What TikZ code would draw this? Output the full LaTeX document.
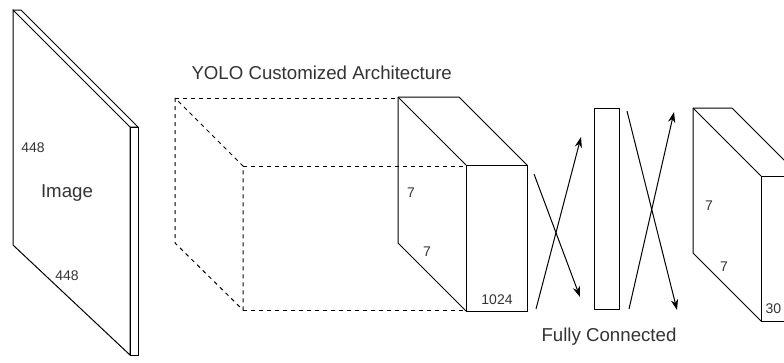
\documentclass[tikz,border=0pt]{standalone}
\usepackage{fontspec}
\setmainfont{Liberation Sans}
\usetikzlibrary{arrows.meta,positioning}

\begin{document}
\begin{tikzpicture}[x=0.75pt,y=-0.75pt,line width=0.75pt,
  num/.style={font=\fontsize{10.5}{12}\selectfont,text=black!80,inner sep=0pt},
  labeltext/.style={font=\fontsize{14}{16}\selectfont,text=black!80,inner sep=0pt},
  fcarrow/.style={-{Stealth[length=8pt,width=5.5pt]}}]

% ---- page frame (reference is cut at the right edge) ----
\useasboundingbox (0,0) rectangle (784,362);
\clip (0,0) rectangle (784,362);

% ---- solid box: \blockcube{x1}{y1}{x2}{y2}{depth}, front face + offset back
\newcommand{\blockcube}[5]{
  \draw (#1,#2) rectangle (#3,#4);
  \draw (#1-#5,#2-#5) -- (#3-#5,#2-#5) -- (#3,#2);
  \draw (#1-#5,#2-#5) -- (#1,#2);
  \draw (#1-#5,#2-#5) -- (#1-#5,#4-#5) -- (#1,#4);
}

% Input image slab
\draw (13,10) -- (130,127) -- (130,355) -- (13,245) -- cycle;
\draw (13,10) -- (21,10) -- (138,127) -- (130,127);
\draw (130,127) rectangle (138,355);
\node[num] (imgh) at (33,148) {448};
\node[labeltext] (img) at (67,193) {Image};
\node[num] (imgw) at (67,276) {448};

% Title
\node[labeltext,anchor=west] (title) at (191,73) {YOLO Customized Architecture};

% Dashed backbone volume
\draw[dashed] (175,98) -- (175,243) -- (243,310) -- (243,166) -- cycle;
\draw[dashed] (175,98) -- (398,98);
\draw[dashed] (243,166) -- (466,166);
\draw[dashed] (243,310) -- (466,310);

% Feature map 7x7x1024
\blockcube{466}{165}{527}{311}{68}
\node[num] (fh) at (411,193) {7};
\node[num] (fw) at (427,252) {7};
\node[num] (fd) at (497,300) {1024};

% Fully connected layer
\draw (594,108) rectangle (619,309);
\node[labeltext] (fc) at (609,337) {Fully Connected};

% crossing arrows
\coordinate (a1) at (534,174); \coordinate (b1) at (580,297);
\coordinate (a2) at (536,309); \coordinate (b2) at (581,137);
\coordinate (a3) at (627,111); \coordinate (b3) at (677,310);
\coordinate (a4) at (629,309); \coordinate (b4) at (674,112);
\foreach \i in {1,...,4} {
  \draw[fcarrow] (a\i) -- (b\i);
}

% Output tensor 7x7x30
\blockcube{761}{176}{800}{321}{68}
\node[num] (oh) at (709,206) {7};
\node[num] (ow) at (724,267) {7};
\node[num,anchor=west] (od) at (765,309) {30};

\end{tikzpicture}
\end{document}
